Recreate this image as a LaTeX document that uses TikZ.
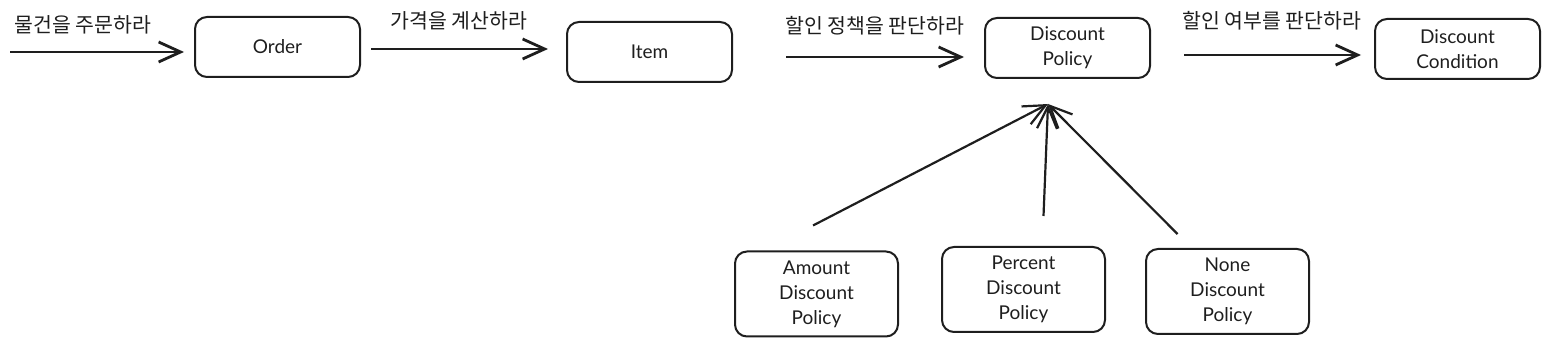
\documentclass[tikz,border=0pt]{standalone}
\usepackage{fontspec}
\setmainfont{Lato}
\newfontfamily\kofont{Noto Sans CJK KR}
\usetikzlibrary{arrows.meta,calc,positioning}
\definecolor{inkblack}{RGB}{30,30,30}
\tikzset{
  box/.style={
    rounded corners=12pt,
    draw=inkblack,
    line width=2pt,
    align=center,
    minimum width=165pt,
    minimum height=60pt,
    inner sep=4pt,
    text=inkblack,
    font=\fontsize{19}{25}\selectfont
  },
  tallbox/.style={
    box,
    minimum width=163pt,
    minimum height=85pt
  },
  msg/.style={
    text=inkblack,
    inner sep=0pt,
    font=\kofont\fontsize{20.5}{24}\selectfont
  },
  arrow/.style={
    -{Straight Barb[length=22pt,width=20pt]},
    line width=2.8pt,
    inkblack
  },
  uparrow/.style={
    arrow,
    line width=2.2pt
  }
}
\begin{document}
\begin{tikzpicture}[x=1pt,y=-1pt]
\useasboundingbox (0,0) rectangle (1549,344);
% top row
\node[box] (order) at (277.5,47) {Order};
\node[box,right=205pt of order,yshift=-5pt] (item) {Item};
\node[box,right=251pt of item,yshift=4pt] (policy) {Discount\\Policy};
\node[box,right=223pt of policy,yshift=-1pt] (cond) {Discount\\Condition};
% policies
\node[tallbox,below=167pt of policy,xshift=-44pt] (percent) {Percent\\Discount\\Policy};
\node[tallbox,left=42pt of percent,yshift=-4.5pt] (amount) {Amount\\Discount\\Policy};
\node[tallbox,right=39pt of percent,yshift=-2pt] (none) {None\\Discount\\Policy};
\coordinate (in) at (10,52);
\coordinate (tip) at ([xshift=-19.5pt,yshift=-25pt]policy.south);
% messages
\draw[arrow] (in) -- ([xshift=-10pt,yshift=-5pt]order.west)
  node[msg,at start,anchor=west,xshift=3pt,yshift=27pt] {물건을 주문하라};
\draw[arrow] ([xshift=10pt,yshift=-2pt]order.east) -- ([xshift=-18pt,yshift=3pt]item.west)
  node[msg,at start,anchor=west,xshift=18pt,yshift=28pt] {가격을 계산하라};
\draw[arrow] ([xshift=53pt,yshift=-5pt]item.east) -- ([xshift=-20pt,yshift=-9pt]policy.west)
  node[msg,at start,anchor=west,xshift=-2pt,yshift=31pt] {할인 정책을 판단하라};
\draw[arrow] ([xshift=33pt,yshift=-7pt]policy.east) -- ([xshift=-13pt,yshift=-6pt]cond.west)
  node[msg,at start,anchor=west,xshift=-3pt,yshift=34pt] {할인 여부를 판단하라};
% inheritance
\draw[uparrow] ([xshift=-3.5pt,yshift=25pt]amount.north) -- (tip);
\draw[uparrow] ([xshift=20pt,yshift=30pt]percent.north) -- (tip);
\draw[uparrow] ([xshift=-50pt,yshift=14pt]none.north) -- (tip);
\end{tikzpicture}
\end{document}
